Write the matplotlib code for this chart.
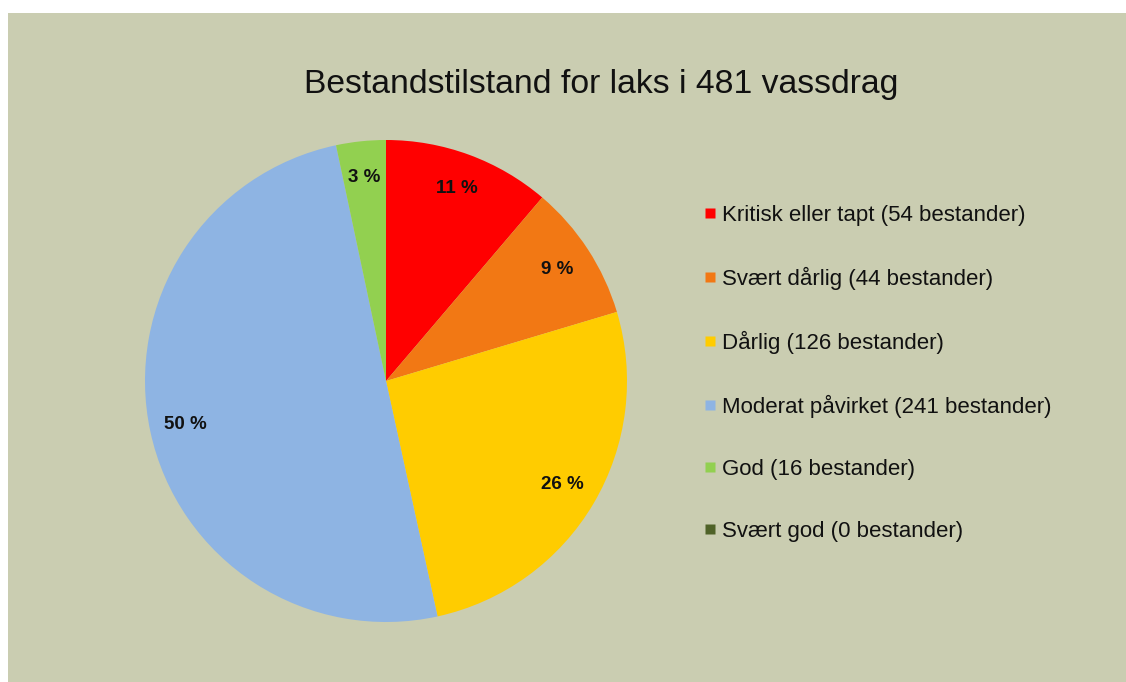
import matplotlib
matplotlib.use("Agg")
import matplotlib.pyplot as plt
from matplotlib.lines import Line2D
from matplotlib.patches import Rectangle

plt.rcParams['font.family'] = ['Liberation Sans', 'DejaVu Sans']

title = 'Bestandstilstand for laks i 481 vassdrag'
categories = ['Kritisk eller tapt', 'Svært dårlig', 'Dårlig',
              'Moderat påvirket', 'God', 'Svært god']
counts = [54, 44, 126, 241, 16, 0]
colors = ['#FF0000', '#F27814', '#FFCC00', '#8EB4E3', '#92D050', '#4F6228']
bg = '#CACDB1'

fig = plt.figure(figsize=(11.26, 6.82), dpi=100)
fig.patch.set_facecolor('white')
# coloured panel with a thin white margin at top and left
fig.patches.append(Rectangle((8 / 1126, 0), 1, 1 - 13 / 682,
                             transform=fig.transFigure, facecolor=bg,
                             edgecolor='none', zorder=-5))

fig.text(601 / 1126, 1 - 84 / 682, title, ha='center', va='center',
         fontsize=24.3, color='#111111')

ax = fig.add_axes([145 / 1126, 60 / 682, 482 / 1126, 482 / 682])
ax.set_facecolor('none')


def pct(p):
    return '' if p < 0.5 else f'{p:.0f} %'


wedges, texts, autotexts = ax.pie(
    counts, colors=colors, startangle=90, counterclock=False,
    autopct=pct, pctdistance=0.85, radius=1.0,
    wedgeprops=dict(linewidth=0),
    textprops=dict(fontsize=13.5, fontweight='bold', color='#111111'))
ax.set_xlim(-1, 1)
ax.set_ylim(-1, 1)
ax.set_aspect('equal')
ax.axis('off')

handles = [Line2D([], [], marker='s', linestyle='none', markersize=6.5,
                  markerfacecolor=c, markeredgecolor='none') for c in colors]
labels = [f'{c} ({n} bestander)' for c, n in zip(categories, counts)]
fig.legend(handles, labels, loc='upper left',
           bbox_to_anchor=(696 / 1126, 1 - 196 / 682), frameon=False,
           fontsize=16, handlelength=0.5, handletextpad=0.25,
           labelspacing=1.84, borderaxespad=0, labelcolor='#111111')

fig.savefig('out.png', dpi=100, facecolor=fig.get_facecolor())
